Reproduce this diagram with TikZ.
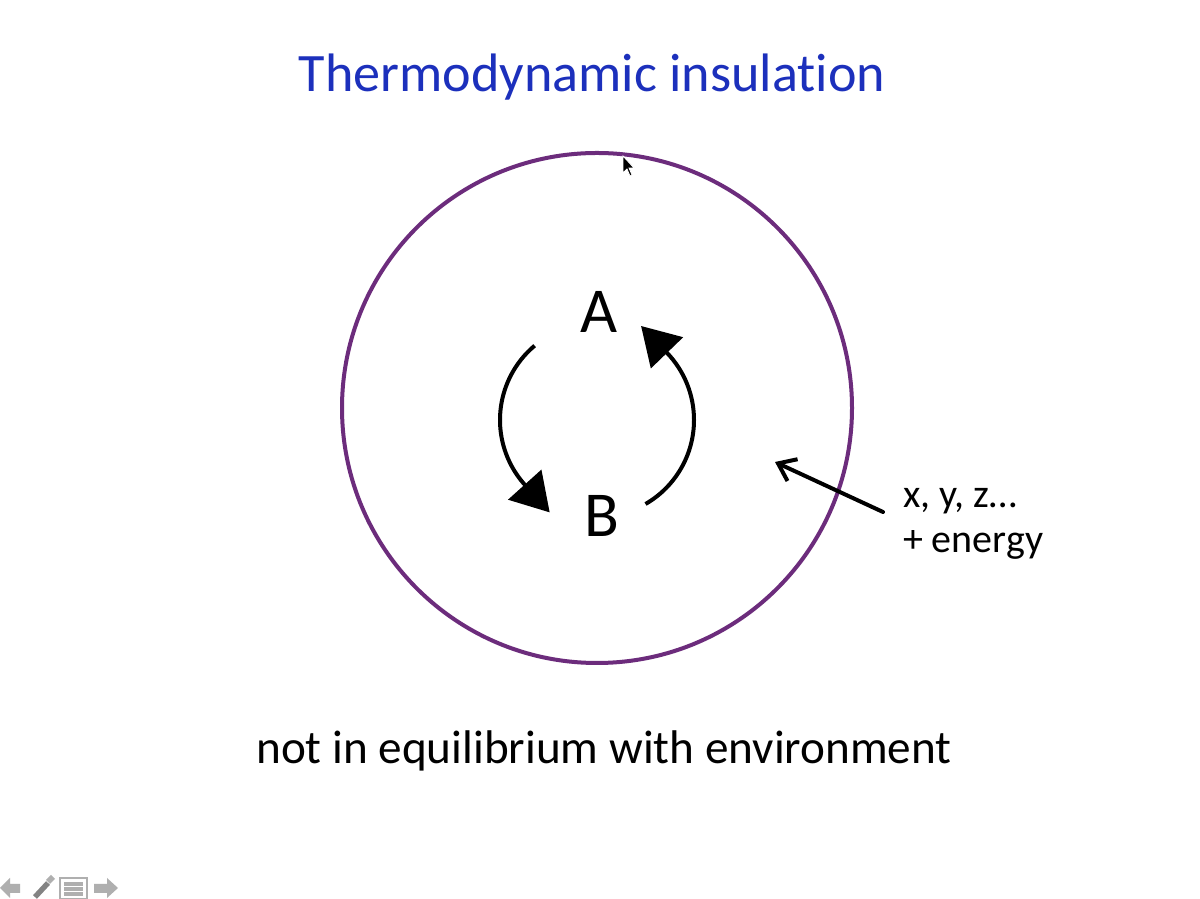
\documentclass[tikz,border=0pt]{standalone}
\usepackage{fontspec}
\setmainfont{Carlito}[Ligatures=NoCommon]
\usetikzlibrary{arrows.meta}
\definecolor{titleblue}{RGB}{28,48,188}
\definecolor{ringpurple}{RGB}{108,44,124}
\definecolor{icongrey}{RGB}{175,175,175}
\tikzset{
  lbl/.style={inner sep=0pt, outer sep=0pt, anchor=base, text=black},
  cyc/.style={line width=3pt, -{Triangle[length=28pt,width=33pt]}},
  inflow/.style={line width=3pt, line cap=round, -{Straight Barb[length=12pt,width=18pt,line width=3pt]}},
}
\begin{document}
\begin{tikzpicture}[x=0.75pt,y=0.75pt]
\useasboundingbox (0,0) rectangle (1200,899);
\fill[white] (0,0) rectangle (1200,899);
% title
\node[lbl, text=titleblue, font=\fontsize{40.6pt}{48pt}\selectfont] (title) at (592,807) {Thermodynamic insulation};
% boundary
\node[draw=ringpurple, line width=3pt, circle, minimum size=382.5pt, inner sep=0pt] (ring) at (597,491) {};
% states
\node[lbl, font=\fontsize{48pt}{56pt}\selectfont] (A) at (599,566) {A};
\node[lbl, font=\fontsize{48pt}{56pt}\selectfont] (B) at (602,362) {B};
% cycle arcs
\coordinate (cc) at (597,479);
\draw[cyc] (cc) ++(130:97) arc[start angle=130, end angle=222, radius=97] -- ++(312:37);
\draw[cyc] (cc) ++(-60:97) arc[start angle=-60, end angle=44, radius=97] -- ++(134:37);
% inflow
\node[lbl, anchor=base west, font=\fontsize{30pt}{34pt}\selectfont] (xyz) at (903,391) {x, y, z…};
\node[lbl, anchor=base west, font=\fontsize{30pt}{34pt}\selectfont] (en) at (903,346) {+ energy};
\coordinate (ins) at (883,387);
\coordinate (ine) at (775,437);
\draw[inflow] (ins) -- (ine);
% bottom text
\node[lbl, font=\fontsize{35.4pt}{40pt}\selectfont] (note) at (604,135) {not in equilibrium with environment};
% mouse cursor
\fill[black, draw=white, line width=0.6pt] (623,743) -- (623,726) -- (627,730) -- (630,723) -- (632,724) -- (629,731) -- (634,731) -- cycle;
% navigation icons
\fill[icongrey] (0,11) -- (10,21) -- (10,15) -- (20,15) -- (20,6) -- (10,6) -- (10,1) -- cycle;
\draw[icongrey!75!black, line width=4pt] (35,2) -- (48,16);
\fill[icongrey] (46,19) -- (51,24) -- (55,20) -- (50,15) -- cycle;
\draw[icongrey, line width=1pt, fill=white] (60,0) rectangle (87,21);
\draw[icongrey, line width=2.5pt] (64,15) -- (83,15) (64,10) -- (83,10) (64,5) -- (83,5);
\fill[icongrey] (118,11) -- (107,21) -- (107,15) -- (94,15) -- (94,6) -- (107,6) -- (107,1) -- cycle;
\end{tikzpicture}
\end{document}
